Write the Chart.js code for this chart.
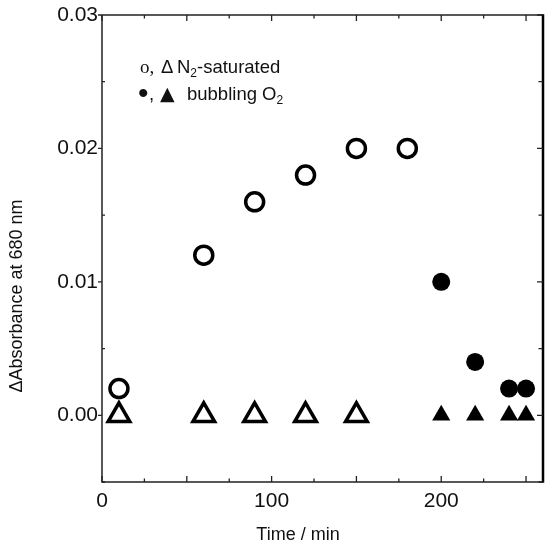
<!DOCTYPE html>
<html><head><meta charset="utf-8">
<script src="https://cdn.jsdelivr.net/npm/chart.js@4/dist/chart.umd.min.js"></script>
<style>html,body{margin:0;padding:0;background:#fff;overflow:hidden}#wrap{width:550px;height:547px;overflow:hidden}#c{display:block}</style>
</head><body><div id="wrap"><canvas id="c" width="550" height="547"></canvas></div>
<script>
// Data
const n2CircleTime = [10, 60, 90, 120, 150, 180];
const n2CircleAbs  = [0.002, 0.012, 0.016, 0.018, 0.020, 0.020];
const n2TriTime    = [10, 60, 90, 120, 150];
const n2TriAbs     = [0, 0, 0, 0, 0];
const o2CircleTime = [200, 220, 240, 250];
const o2CircleAbs  = [0.010, 0.004, 0.002, 0.002];
const o2TriTime    = [200, 220, 240, 250];
const o2TriAbs     = [0, 0, 0, 0];
// Axis ticks
const xTickLabels = [0, 100, 200];
const yTickLabels = [0.00, 0.01, 0.02, 0.03];
const xTickMarks  = [0, 25, 50, 75, 100, 125, 150, 175, 200, 225, 250];
const yTickMarks  = [-0.005, 0, 0.005, 0.01, 0.015, 0.02, 0.025, 0.03];
const xTitle = 'Time / min';
const yTitle = '\u0394Absorbance at 680 nm';

const pts = (xs, ys) => xs.map((x, i) => ({x: x, y: ys[i]}));
const SANS = '"Liberation Sans", Arial, sans-serif';

const framePlugin = {
  id: 'frame',
  afterDraw(chart) {
    const ctx = chart.ctx, a = chart.chartArea;
    const xs = chart.scales.x, ys = chart.scales.y;
    ctx.save();
    // frame
    ctx.strokeStyle = '#222';
    ctx.lineWidth = 1.5;
    ctx.beginPath();
    ctx.moveTo(a.left, a.top); ctx.lineTo(a.left, a.bottom); ctx.lineTo(a.right, a.bottom);
    ctx.moveTo(a.left, a.top); ctx.lineTo(a.right, a.top);
    ctx.stroke();
    ctx.strokeStyle = '#000';
    ctx.lineWidth = 2.5;
    ctx.beginPath(); ctx.moveTo(a.right, a.top - 0.75); ctx.lineTo(a.right, a.bottom + 0.75); ctx.stroke();
    // x tick marks (inward, top and bottom)
    ctx.strokeStyle = '#222';
    ctx.lineWidth = 1.3;
    ctx.beginPath();
    xTickMarks.forEach(v => {
      const px = xs.getPixelForValue(v);
      const len = (v % 50 === 0) ? 6 : 3.5;
      ctx.moveTo(px, a.bottom); ctx.lineTo(px, a.bottom - len);
      ctx.moveTo(px, a.top); ctx.lineTo(px, a.top + len);
    });
    // y tick marks
    yTickMarks.forEach(v => {
      const py = ys.getPixelForValue(v);
      const major = yTickLabels.some(t => Math.abs(t - v) < 1e-9);
      if (major) { ctx.moveTo(a.left, py); ctx.lineTo(a.left - 4, py); }
      else { ctx.moveTo(a.left, py); ctx.lineTo(a.left + 3, py); }
      ctx.moveTo(a.right, py); ctx.lineTo(a.right - (major ? 6 : 4.5), py);
    });
    ctx.stroke();

    // axis titles
    ctx.fillStyle = '#111';
    ctx.font = '18px ' + SANS;
    ctx.textAlign = 'center';
    ctx.textBaseline = 'middle';
    ctx.fillText(xTitle, 298, 535);
    ctx.save();
    ctx.translate(17, 296);
    ctx.rotate(-Math.PI / 2);
    ctx.fillText(yTitle, 0, 0);
    ctx.restore();

    // legend text
    ctx.textAlign = 'left';
    ctx.textBaseline = 'alphabetic';
    const big = '18.5px ' + SANS, sub = '12px ' + SANS;
    let x = 140, y = 72.5;
    ctx.font = '19px "Liberation Serif", serif';
    ctx.fillText('o,', x, y);
    x = 161;
    ctx.font = big;
    ctx.fillText('\u0394', x, y);
    x = 177;
    ctx.fillText('N', x, y); x += ctx.measureText('N').width;
    ctx.font = sub; ctx.fillText('2', x, y + 4); x += ctx.measureText('2').width;
    ctx.font = big; ctx.fillText('-saturated', x, y);

    y = 99.5; x = 138;
    ctx.font = '30px ' + SANS;
    ctx.fillText('\u2022', x, y + 3);
    ctx.font = big;
    ctx.fillText(',', x + 11, y);
    x = 160;
    ctx.font = '19px "DejaVu Sans", sans-serif';
    ctx.fillText('\u25B2', x, y);
    x = 187;
    ctx.font = big;
    ctx.fillText('bubbling O', x, y); x += ctx.measureText('bubbling O').width;
    ctx.font = sub; ctx.fillText('2', x, y + 4);
    ctx.restore();
  }
};

new Chart(document.getElementById('c'), {
  type: 'scatter',
  data: {
    datasets: [
      { label: 'N2 circle', data: pts(n2CircleTime, n2CircleAbs), pointStyle: 'circle',
        pointRadius: 9, borderWidth: 3.5, borderColor: '#000', backgroundColor: 'rgba(255,255,255,0)' },
      { label: 'N2 triangle', data: pts(n2TriTime, n2TriAbs), pointStyle: 'triangle',
        pointRadius: 12.5, borderWidth: 3.5, borderColor: '#000', backgroundColor: 'rgba(255,255,255,0)' },
      { label: 'O2 circle', data: pts(o2CircleTime, o2CircleAbs), pointStyle: 'circle',
        pointRadius: 9, borderWidth: 0, borderColor: '#000', backgroundColor: '#000' },
      { label: 'O2 triangle', data: pts(o2TriTime, o2TriAbs), pointStyle: 'triangle',
        pointRadius: 10.5, borderWidth: 0, borderColor: '#000', backgroundColor: '#000' }
    ]
  },
  options: {
    responsive: false,
    animation: false,
    devicePixelRatio: 1,
    layout: { autoPadding: false, padding: { left: 0, top: 15, right: 7, bottom: 0 } },
    plugins: { legend: { display: false }, tooltip: { enabled: false } },
    scales: {
      x: {
        type: 'linear', min: 0, max: 260,
        grid: { display: false, drawTicks: false },
        border: { display: false },
        afterBuildTicks: s => { s.ticks = xTickLabels.map(v => ({ value: v })); },
        afterFit: s => { s.height = 65; s.paddingLeft = 0; s.paddingRight = 0; },
        ticks: { font: { size: 21, family: SANS }, color: '#111', padding: 7, maxRotation: 0 }
      },
      y: {
        type: 'linear', min: -0.005, max: 0.03,
        grid: { display: false, drawTicks: false },
        border: { display: false },
        afterBuildTicks: s => { s.ticks = yTickLabels.map(v => ({ value: v })); },
        afterFit: s => { s.width = 102; s.paddingTop = 0; s.paddingBottom = 0; },
        ticks: { font: { size: 21, family: SANS }, color: '#111', padding: 4,
                 callback: v => Number(v).toFixed(2) }
      }
    }
  },
  plugins: [framePlugin]
});
</script></body></html>
